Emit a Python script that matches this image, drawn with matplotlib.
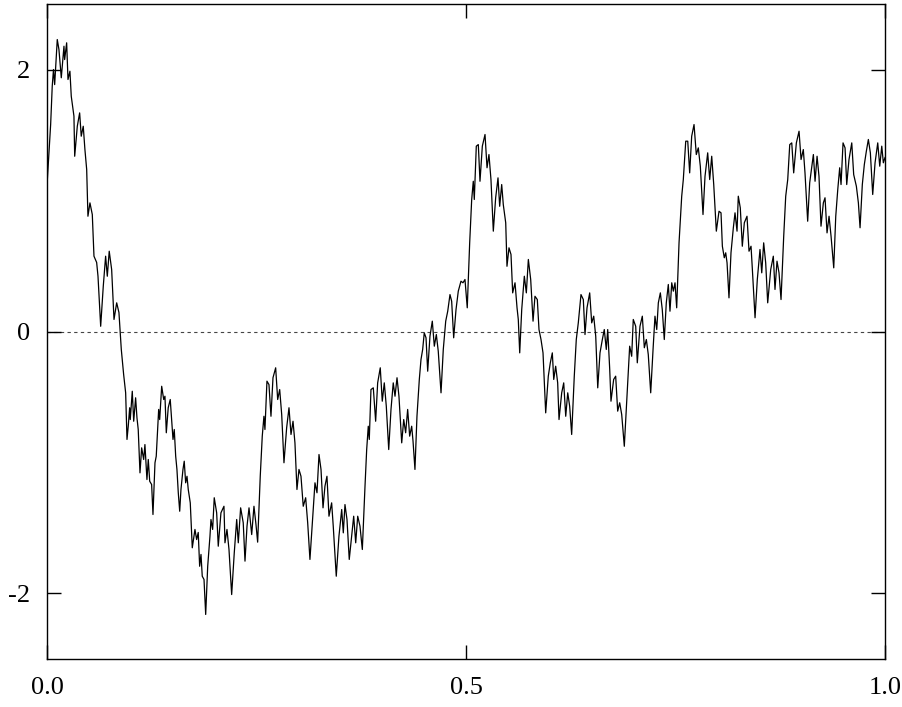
import matplotlib
matplotlib.use("Agg")
import matplotlib.pyplot as plt

plt.rcParams['font.family'] = ['Liberation Serif', 'DejaVu Serif']

# path values
t = [0.0, 0.0044, 0.0063, 0.0078, 0.0092, 0.0123, 0.0143, 0.0171, 0.0203, 0.0211,
     0.0235, 0.0251, 0.0274, 0.0290, 0.0322, 0.0331, 0.0362, 0.0390, 0.0409, 0.0433,
     0.0453, 0.0474, 0.0489, 0.0513, 0.0541, 0.0561, 0.0593, 0.0609, 0.0641, 0.0672,
     0.0700, 0.0720, 0.0743, 0.0772, 0.0800, 0.0832, 0.0859, 0.0887, 0.0915, 0.0939,
     0.0955, 0.0970, 0.0987, 0.0994, 0.1018, 0.1035, 0.1058, 0.1074, 0.1089, 0.1110,
     0.1130, 0.1154, 0.1169, 0.1193, 0.1209, 0.1226, 0.1249, 0.1265, 0.1289, 0.1304,
     0.1321, 0.1333, 0.1345, 0.1369, 0.1393, 0.1408, 0.1424, 0.1447, 0.1471, 0.1488,
     0.1504, 0.1519, 0.1536, 0.1551, 0.1567, 0.1584, 0.1599, 0.1623, 0.1638, 0.1655,
     0.1671, 0.1686, 0.1710, 0.1734, 0.1766, 0.1786, 0.1805, 0.1822, 0.1838, 0.1853,
     0.1874, 0.1894, 0.1918, 0.1945, 0.1957, 0.1977, 0.1996, 0.2025, 0.2044, 0.2076,
     0.2112, 0.2124, 0.2148, 0.2172, 0.2204, 0.2235, 0.2264, 0.2283, 0.2311, 0.2342,
     0.2363, 0.2387, 0.2411, 0.2443, 0.2470, 0.2494, 0.2514, 0.2530, 0.2545, 0.2569,
     0.2589, 0.2601, 0.2625, 0.2649, 0.2673, 0.2697, 0.2729, 0.2753, 0.2777, 0.2801,
     0.2828, 0.2860, 0.2888, 0.2912, 0.2936, 0.2959, 0.2983, 0.3007, 0.3031, 0.3058,
     0.3087, 0.3111, 0.3138, 0.3174, 0.3198, 0.3222, 0.3246, 0.3270, 0.3294, 0.3317,
     0.3341, 0.3365, 0.3397, 0.3416, 0.3452, 0.3484, 0.3517, 0.3536, 0.3556, 0.3580,
     0.3607, 0.3636, 0.3660, 0.3684, 0.3708, 0.3735, 0.3763, 0.3795, 0.3815, 0.3834,
     0.3846, 0.3866, 0.3894, 0.3922, 0.3946, 0.3977, 0.4001, 0.4025, 0.4049, 0.4078,
     0.4105, 0.4132, 0.4153, 0.4177, 0.4200, 0.4233, 0.4257, 0.4280, 0.4304, 0.4328,
     0.4352, 0.4368, 0.4391, 0.4415, 0.4443, 0.4463, 0.4483, 0.4502, 0.4523, 0.4543,
     0.4570, 0.4598, 0.4622, 0.4646, 0.4669, 0.4702, 0.4729, 0.4758, 0.4782, 0.4809,
     0.4829, 0.4853, 0.4881, 0.4908, 0.4940, 0.4964, 0.4988, 0.5015, 0.5044, 0.5068,
     0.5087, 0.5099, 0.5123, 0.5147, 0.5167, 0.5195, 0.5227, 0.5251, 0.5274, 0.5298,
     0.5326, 0.5354, 0.5382, 0.5402, 0.5426, 0.5445, 0.5474, 0.5489, 0.5513, 0.5537,
     0.5557, 0.5585, 0.5609, 0.5624, 0.5641, 0.5665, 0.5696, 0.5720, 0.5744, 0.5772,
     0.5800, 0.5823, 0.5851, 0.5871, 0.5895, 0.5919, 0.5951, 0.5982, 0.6006, 0.6030,
     0.6047, 0.6070, 0.6094, 0.6110, 0.6142, 0.6166, 0.6190, 0.6214, 0.6237, 0.6261,
     0.6292, 0.6316, 0.6340, 0.6372, 0.6400, 0.6420, 0.6444, 0.6476, 0.6500, 0.6524,
     0.6548, 0.6572, 0.6599, 0.6627, 0.6650, 0.6674, 0.6691, 0.6715, 0.6730, 0.6762,
     0.6786, 0.6810, 0.6834, 0.6858, 0.6889, 0.6921, 0.6953, 0.6977, 0.6996, 0.7025,
     0.7044, 0.7076, 0.7104, 0.7128, 0.7152, 0.7175, 0.7204, 0.7232, 0.7255, 0.7276,
     0.7295, 0.7319, 0.7342, 0.7366, 0.7390, 0.7414, 0.7434, 0.7455, 0.7474, 0.7494,
     0.7514, 0.7542, 0.7574, 0.7593, 0.7622, 0.7646, 0.7669, 0.7693, 0.7721, 0.7748,
     0.7772, 0.7796, 0.7828, 0.7852, 0.7884, 0.7908, 0.7932, 0.7956, 0.7987, 0.8019,
     0.8043, 0.8059, 0.8082, 0.8099, 0.8115, 0.8138, 0.8162, 0.8190, 0.8210, 0.8234,
     0.8249, 0.8273, 0.8297, 0.8321, 0.8353, 0.8377, 0.8401, 0.8416, 0.8449, 0.8476,
     0.8508, 0.8529, 0.8552, 0.8576, 0.8600, 0.8636, 0.8667, 0.8687, 0.8711, 0.8735,
     0.8759, 0.8791, 0.8815, 0.8839, 0.8863, 0.8887, 0.8910, 0.8942, 0.8974, 0.8998,
     0.9025, 0.9045, 0.9077, 0.9101, 0.9125, 0.9145, 0.9165, 0.9189, 0.9212, 0.9236,
     0.9264, 0.9284, 0.9308, 0.9332, 0.9356, 0.9388, 0.9412, 0.9436, 0.9459, 0.9475,
     0.9499, 0.9523, 0.9543, 0.9570, 0.9603, 0.9626, 0.9658, 0.9682, 0.9702, 0.9729,
     0.9753, 0.9777, 0.9801, 0.9825, 0.9853, 0.9881, 0.9913, 0.9937, 0.9961, 0.9980,
     1.0]

w = [1.109, 1.580, 1.873, 2.000, 1.885, 2.229, 2.153, 1.937, 2.178, 2.076,
     2.204, 1.924, 1.987, 1.796, 1.644, 1.338, 1.567, 1.669, 1.491, 1.567,
     1.389, 1.237, 0.880, 0.982, 0.893, 0.575, 0.527, 0.422, 0.040, 0.346,
     0.575, 0.422, 0.613, 0.473, 0.092, 0.219, 0.145, -0.137, -0.328, -0.468,
     -0.824, -0.723, -0.582, -0.672, -0.456, -0.685, -0.506, -0.659, -0.748, -1.079,
     -0.888, -0.977, -0.863, -1.130, -0.977, -1.143, -1.168, -1.397, -1.002, -0.952,
     -0.748, -0.595, -0.672, -0.418, -0.519, -0.494, -0.773, -0.582, -0.519, -0.672,
     -0.824, -0.748, -0.952, -1.053, -1.231, -1.372, -1.206, -1.053, -0.990, -1.155,
     -1.105, -1.206, -1.308, -1.651, -1.511, -1.588, -1.534, -1.792, -1.702, -1.868,
     -1.893, -2.160, -1.792, -1.563, -1.435, -1.511, -1.269, -1.384, -1.639, -1.384,
     -1.334, -1.613, -1.511, -1.664, -2.008, -1.689, -1.435, -1.613, -1.346, -1.460,
     -1.753, -1.486, -1.346, -1.550, -1.334, -1.473, -1.608, -1.359, -1.105, -0.799,
     -0.647, -0.748, -0.379, -0.405, -0.647, -0.353, -0.277, -0.519, -0.443, -0.634,
     -1.002, -0.735, -0.582, -0.786, -0.685, -0.850, -1.206, -1.053, -1.105, -1.334,
     -1.269, -1.460, -1.740, -1.384, -1.155, -1.231, -0.939, -1.053, -1.346, -1.181,
     -1.105, -1.410, -1.308, -1.486, -1.868, -1.563, -1.359, -1.537, -1.321, -1.435,
     -1.740, -1.563, -1.410, -1.613, -1.410, -1.486, -1.664, -1.181, -0.901, -0.723,
     -0.824, -0.443, -0.430, -0.685, -0.392, -0.277, -0.532, -0.392, -0.570, -0.901,
     -0.595, -0.392, -0.494, -0.353, -0.494, -0.850, -0.672, -0.773, -0.595, -0.799,
     -0.723, -0.837, -1.053, -0.647, -0.366, -0.214, -0.137, -0.010, -0.048, -0.303,
     -0.036, 0.079, -0.112, -0.023, -0.150, -0.468, -0.137, 0.079, 0.155, 0.282,
     0.231, -0.048, 0.168, 0.308, 0.384, 0.372, 0.397, 0.181, 0.677, 1.008,
     1.147, 1.008, 1.415, 1.427, 1.147, 1.415, 1.504, 1.250, 1.351, 1.160,
     0.766, 1.021, 1.173, 0.956, 1.122, 0.969, 0.830, 0.498, 0.639, 0.588,
     0.295, 0.372, 0.181, 0.092, -0.163, 0.168, 0.422, 0.295, 0.550, 0.397,
     0.079, 0.269, 0.244, 0.015, -0.061, -0.163, -0.621, -0.341, -0.239, -0.163,
     -0.366, -0.265, -0.392, -0.672, -0.468, -0.392, -0.647, -0.468, -0.570, -0.786,
     -0.341, -0.061, 0.066, 0.282, 0.244, -0.023, 0.181, 0.295, 0.066, 0.117,
     -0.036, -0.430, -0.163, -0.061, 0.015, -0.137, 0.015, -0.290, -0.532, -0.366,
     -0.341, -0.608, -0.544, -0.634, -0.876, -0.494, -0.112, -0.189, 0.092, 0.040,
     -0.239, 0.040, 0.117, -0.124, -0.061, -0.176, -0.468, -0.137, 0.117, 0.015,
     0.219, 0.295, 0.168, -0.061, 0.219, 0.359, 0.155, 0.372, 0.308, 0.372,
     0.181, 0.677, 1.033, 1.160, 1.453, 1.453, 1.211, 1.491, 1.580, 1.351,
     1.402, 1.262, 0.893, 1.185, 1.364, 1.160, 1.338, 1.122, 0.766, 0.918,
     0.906, 0.651, 0.563, 0.601, 0.524, 0.257, 0.601, 0.792, 0.906, 0.766,
     1.033, 0.944, 0.651, 0.830, 0.880, 0.613, 0.651, 0.486, 0.105, 0.397,
     0.626, 0.448, 0.677, 0.524, 0.219, 0.473, 0.575, 0.321, 0.537, 0.448,
     0.244, 0.727, 1.033, 1.160, 1.427, 1.440, 1.211, 1.440, 1.529, 1.313,
     1.389, 1.211, 0.842, 1.135, 1.250, 1.351, 1.147, 1.338, 1.185, 0.804,
     0.982, 1.021, 0.753, 0.880, 0.727, 0.486, 0.880, 1.084, 1.250, 1.122,
     1.440, 1.402, 1.122, 1.313, 1.440, 1.198, 1.109, 0.982, 0.792, 1.122,
     1.275, 1.376, 1.466, 1.364, 1.046, 1.288, 1.440, 1.262, 1.415, 1.288,
     1.328]

x_ticks = [0.0, 0.5, 1.0]
x_tick_labels = ["0.0", "0.5", "1.0"]
y_ticks = [-2, 0, 2]
y_tick_labels = ["-2", "0", "2"]

fig = plt.figure(figsize=(9.03, 7.07), dpi=100)
ax = fig.add_axes([0.0520, 0.0679, 0.9281, 0.9264])

ax.axhline(0, color='#444444', lw=0.8, ls=(0, (3, 3)), zorder=1)
ax.plot(t, w, color='black', lw=0.9, zorder=2)

ax.set_xlim(0, 1)
ax.set_ylim(-2.5, 2.5)
ax.set_xticks(x_ticks)
ax.set_xticklabels(x_tick_labels)
ax.set_yticks(y_ticks)
ax.set_yticklabels(y_tick_labels)

ax.tick_params(axis='both', direction='in', length=10, width=1.0,
               top=True, right=True, labelsize=19)
ax.tick_params(axis='x', pad=13)
ax.tick_params(axis='y', pad=12)
for s in ax.spines.values():
    s.set_linewidth(1.0)
    s.set_color('black')

fig.savefig("out.png", dpi=100)
